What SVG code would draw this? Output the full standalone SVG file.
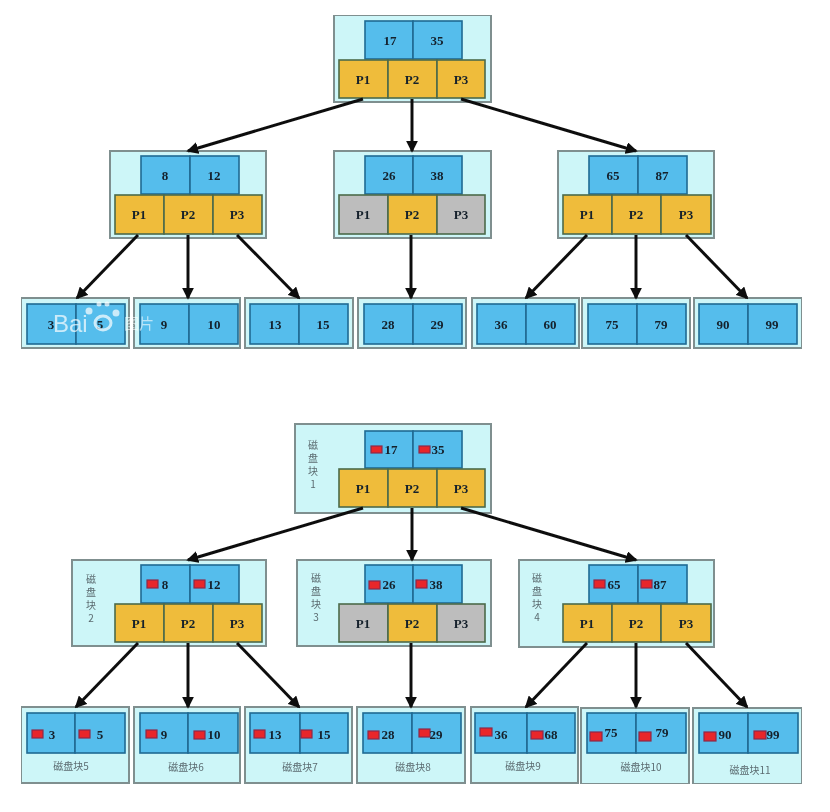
<svg xmlns="http://www.w3.org/2000/svg" width="830" height="812" viewBox="0 0 830 812">
<defs>
<style>
.o{fill:#cdf6f8;stroke:#7f8f8f;stroke-width:2}
.k{fill:#55bdec;stroke:#1f6a93;stroke-width:1.6}
.p{fill:#efbc3a;stroke:#4c6a4a;stroke-width:1.6}
.g{fill:#bdbdbd;stroke:#4c6a4a;stroke-width:1.6}
.t{font-family:"Liberation Serif","Noto Sans CJK SC",serif;font-weight:700;font-size:13px;fill:#14202c;text-anchor:middle}
.l{font-family:"Noto Sans CJK SC","Liberation Serif",serif;font-size:10px;fill:#5b6b70;text-anchor:middle}
.m{fill:#e8262a;stroke:#8a2a4a;stroke-width:1.2}
.c{fill:none;stroke:#111;stroke-width:3;marker-end:url(#a)}
.w{font-family:"Liberation Sans",sans-serif;font-size:24px;fill:#fff;fill-opacity:.7}
.x{font-family:"Noto Sans CJK SC",sans-serif;font-size:15px;fill:#fff;fill-opacity:.6}
.f{fill:#fff;fill-opacity:.7}
</style>
<marker id="a" markerWidth="4" markerHeight="4" refX="3.4" refY="2" orient="auto"><path d="M0 0L4 2L0 4Z" fill="#111"/></marker>
<filter id="b" x="0" y="0" width="100%" height="100%"><feGaussianBlur stdDeviation="0.75"/></filter>
</defs>
<rect width="830" height="812" fill="#fff"/>
<g filter="url(#b)">

<g id="a-root"><rect class="o" x="334" y="15" width="157" height="87"/>
<rect class="k" x="365" y="21" width="48" height="38"/><rect class="k" x="413" y="21" width="49" height="38"/>
<rect class="p" x="339" y="60" width="49" height="38"/><rect class="p" x="388" y="60" width="49" height="38"/><rect class="p" x="437" y="60" width="48" height="38"/>
<text class="t" x="390" y="45">17</text><text class="t" x="437" y="45">35</text>
<text class="t" x="363" y="84">P1</text><text class="t" x="412" y="84">P2</text><text class="t" x="461" y="84">P3</text></g>

<g id="a-left"><rect class="o" x="110" y="151" width="156" height="87"/>
<rect class="k" x="141" y="156" width="49" height="38"/><rect class="k" x="190" y="156" width="49" height="38"/>
<rect class="p" x="115" y="195" width="49" height="39"/><rect class="p" x="164" y="195" width="49" height="39"/><rect class="p" x="213" y="195" width="49" height="39"/>
<text class="t" x="165" y="180">8</text><text class="t" x="214" y="180">12</text>
<text class="t" x="139" y="219">P1</text><text class="t" x="188" y="219">P2</text><text class="t" x="237" y="219">P3</text></g>

<g id="a-mid"><rect class="o" x="334" y="151" width="157" height="87"/>
<rect class="k" x="365" y="156" width="48" height="38"/><rect class="k" x="413" y="156" width="49" height="38"/>
<rect class="g" x="339" y="195" width="49" height="39"/><rect class="p" x="388" y="195" width="49" height="39"/><rect class="g" x="437" y="195" width="48" height="39"/>
<text class="t" x="389" y="180">26</text><text class="t" x="437" y="180">38</text>
<text class="t" x="363" y="219">P1</text><text class="t" x="412" y="219">P2</text><text class="t" x="461" y="219">P3</text></g>

<g id="a-right"><rect class="o" x="558" y="151" width="156" height="87"/>
<rect class="k" x="589" y="156" width="49" height="38"/><rect class="k" x="638" y="156" width="49" height="38"/>
<rect class="p" x="563" y="195" width="49" height="39"/><rect class="p" x="612" y="195" width="49" height="39"/><rect class="p" x="661" y="195" width="50" height="39"/>
<text class="t" x="613" y="180">65</text><text class="t" x="662" y="180">87</text>
<text class="t" x="587" y="219">P1</text><text class="t" x="636" y="219">P2</text><text class="t" x="686" y="219">P3</text></g>

<g id="a-leaf1"><rect class="o" x="21" y="298" width="108" height="50"/><rect class="k" x="27" y="304" width="49" height="40"/><rect class="k" x="76" y="304" width="49" height="40"/><text class="t" x="51" y="329">3</text><text class="t" x="100" y="329">5</text></g>
<g id="a-leaf2"><rect class="o" x="134" y="298" width="106" height="50"/><rect class="k" x="140" y="304" width="49" height="40"/><rect class="k" x="189" y="304" width="49" height="40"/><text class="t" x="164" y="329">9</text><text class="t" x="214" y="329">10</text></g>
<g id="a-leaf3"><rect class="o" x="245" y="298" width="108" height="50"/><rect class="k" x="250" y="304" width="49" height="40"/><rect class="k" x="299" y="304" width="49" height="40"/><text class="t" x="275" y="329">13</text><text class="t" x="323" y="329">15</text></g>
<g id="a-leaf4"><rect class="o" x="358" y="298" width="108" height="50"/><rect class="k" x="364" y="304" width="49" height="40"/><rect class="k" x="413" y="304" width="49" height="40"/><text class="t" x="388" y="329">28</text><text class="t" x="437" y="329">29</text></g>
<g id="a-leaf5"><rect class="o" x="472" y="298" width="107" height="50"/><rect class="k" x="477" y="304" width="49" height="40"/><rect class="k" x="526" y="304" width="49" height="40"/><text class="t" x="501" y="329">36</text><text class="t" x="550" y="329">60</text></g>
<g id="a-leaf6"><rect class="o" x="582" y="298" width="108" height="50"/><rect class="k" x="588" y="304" width="49" height="40"/><rect class="k" x="637" y="304" width="49" height="40"/><text class="t" x="612" y="329">75</text><text class="t" x="661" y="329">79</text></g>
<g id="a-leaf7"><rect class="o" x="694" y="298" width="108" height="50"/><rect class="k" x="699" y="304" width="49" height="40"/><rect class="k" x="748" y="304" width="49" height="40"/><text class="t" x="723" y="329">90</text><text class="t" x="772" y="329">99</text></g>

<g id="watermark"><text class="w" x="53" y="332">Bai</text><circle class="f" cx="89" cy="311" r="3.5"/><circle class="f" cx="99" cy="304" r="2.5"/><circle class="f" cx="107" cy="304" r="2.5"/><circle class="f" cx="116" cy="313" r="3.5"/><ellipse cx="103" cy="323" rx="8" ry="7" fill="none" stroke="#fff" stroke-opacity=".7" stroke-width="3"/><text class="x" x="124" y="329">图片</text></g>

<g id="b-root"><rect class="o" x="295" y="424" width="196" height="89"/>
<rect class="k" x="365" y="431" width="48" height="37"/><rect class="k" x="413" y="431" width="49" height="37"/>
<rect class="p" x="339" y="469" width="49" height="38"/><rect class="p" x="388" y="469" width="49" height="38"/><rect class="p" x="437" y="469" width="48" height="38"/>
<rect class="m" x="371" y="446" width="11" height="7"/><rect class="m" x="419" y="446" width="11" height="7"/>
<text class="t" x="391" y="454">17</text><text class="t" x="438" y="454">35</text>
<text class="t" x="363" y="493">P1</text><text class="t" x="412" y="493">P2</text><text class="t" x="461" y="493">P3</text>
<text class="l" x="313" y="449">磁<tspan x="313" dy="13">盘</tspan><tspan x="313" dy="13">块</tspan><tspan x="313" dy="13">1</tspan></text></g>

<g id="b-left"><rect class="o" x="72" y="560" width="194" height="86"/>
<rect class="k" x="141" y="565" width="49" height="38"/><rect class="k" x="190" y="565" width="49" height="38"/>
<rect class="p" x="115" y="604" width="49" height="38"/><rect class="p" x="164" y="604" width="49" height="38"/><rect class="p" x="213" y="604" width="49" height="38"/>
<rect class="m" x="147" y="580" width="11" height="8"/><rect class="m" x="194" y="580" width="11" height="8"/>
<text class="t" x="165" y="589">8</text><text class="t" x="214" y="589">12</text>
<text class="t" x="139" y="628">P1</text><text class="t" x="188" y="628">P2</text><text class="t" x="237" y="628">P3</text>
<text class="l" x="91" y="583">磁<tspan x="91" dy="13">盘</tspan><tspan x="91" dy="13">块</tspan><tspan x="91" dy="13">2</tspan></text></g>

<g id="b-mid"><rect class="o" x="297" y="560" width="194" height="86"/>
<rect class="k" x="365" y="565" width="48" height="38"/><rect class="k" x="413" y="565" width="49" height="38"/>
<rect class="g" x="339" y="604" width="49" height="38"/><rect class="p" x="388" y="604" width="49" height="38"/><rect class="g" x="437" y="604" width="48" height="38"/>
<rect class="m" x="369" y="581" width="11" height="8"/><rect class="m" x="416" y="580" width="11" height="8"/>
<text class="t" x="389" y="589">26</text><text class="t" x="436" y="589">38</text>
<text class="t" x="363" y="628">P1</text><text class="t" x="412" y="628">P2</text><text class="t" x="461" y="628">P3</text>
<text class="l" x="316" y="582">磁<tspan x="316" dy="13">盘</tspan><tspan x="316" dy="13">块</tspan><tspan x="316" dy="13">3</tspan></text></g>

<g id="b-right"><rect class="o" x="519" y="560" width="195" height="87"/>
<rect class="k" x="589" y="565" width="49" height="38"/><rect class="k" x="638" y="565" width="49" height="38"/>
<rect class="p" x="563" y="604" width="49" height="38"/><rect class="p" x="612" y="604" width="49" height="38"/><rect class="p" x="661" y="604" width="50" height="38"/>
<rect class="m" x="594" y="580" width="11" height="8"/><rect class="m" x="641" y="580" width="11" height="8"/>
<text class="t" x="614" y="589">65</text><text class="t" x="660" y="589">87</text>
<text class="t" x="587" y="628">P1</text><text class="t" x="636" y="628">P2</text><text class="t" x="686" y="628">P3</text>
<text class="l" x="537" y="582">磁<tspan x="537" dy="13">盘</tspan><tspan x="537" dy="13">块</tspan><tspan x="537" dy="13">4</tspan></text></g>

<g id="b-leaf1"><rect class="o" x="21" y="707" width="108" height="76"/><rect class="k" x="27" y="713" width="48" height="40"/><rect class="k" x="75" y="713" width="50" height="40"/><rect class="m" x="32" y="730" width="11" height="8"/><rect class="m" x="79" y="730" width="11" height="8"/><text class="t" x="52" y="739">3</text><text class="t" x="100" y="739">5</text><text class="l" x="71" y="770">磁盘块5</text></g>
<g id="b-leaf2"><rect class="o" x="134" y="707" width="106" height="76"/><rect class="k" x="140" y="713" width="48" height="40"/><rect class="k" x="188" y="713" width="50" height="40"/><rect class="m" x="146" y="730" width="11" height="8"/><rect class="m" x="194" y="731" width="11" height="8"/><text class="t" x="164" y="739">9</text><text class="t" x="214" y="739">10</text><text class="l" x="186" y="771">磁盘块6</text></g>
<g id="b-leaf3"><rect class="o" x="245" y="707" width="107" height="76"/><rect class="k" x="250" y="713" width="50" height="40"/><rect class="k" x="300" y="713" width="48" height="40"/><rect class="m" x="254" y="730" width="11" height="8"/><rect class="m" x="301" y="730" width="11" height="8"/><text class="t" x="275" y="739">13</text><text class="t" x="324" y="739">15</text><text class="l" x="300" y="771">磁盘块7</text></g>
<g id="b-leaf4"><rect class="o" x="357" y="707" width="108" height="76"/><rect class="k" x="363" y="713" width="49" height="40"/><rect class="k" x="412" y="713" width="49" height="40"/><rect class="m" x="368" y="731" width="11" height="8"/><rect class="m" x="419" y="729" width="11" height="8"/><text class="t" x="388" y="739">28</text><text class="t" x="436" y="739">29</text><text class="l" x="413" y="771">磁盘块8</text></g>
<g id="b-leaf5"><rect class="o" x="471" y="707" width="107" height="76"/><rect class="k" x="475" y="713" width="52" height="40"/><rect class="k" x="527" y="713" width="48" height="40"/><rect class="m" x="480" y="728" width="12" height="8"/><rect class="m" x="531" y="731" width="12" height="8"/><text class="t" x="501" y="739">36</text><text class="t" x="551" y="739">68</text><text class="l" x="523" y="770">磁盘块9</text></g>
<g id="b-leaf6"><rect class="o" x="581" y="708" width="108" height="76"/><rect class="k" x="587" y="713" width="49" height="40"/><rect class="k" x="636" y="713" width="50" height="40"/><rect class="m" x="590" y="732" width="12" height="9"/><rect class="m" x="639" y="732" width="12" height="9"/><text class="t" x="611" y="737">75</text><text class="t" x="662" y="737">79</text><text class="l" x="641" y="771">磁盘块10</text></g>
<g id="b-leaf7"><rect class="o" x="693" y="708" width="109" height="76"/><rect class="k" x="699" y="713" width="49" height="40"/><rect class="k" x="748" y="713" width="50" height="40"/><rect class="m" x="704" y="732" width="12" height="9"/><rect class="m" x="754" y="731" width="12" height="8"/><text class="t" x="725" y="739">90</text><text class="t" x="773" y="739">99</text><text class="l" x="750" y="774">磁盘块11</text></g>

<g id="connectors">
<path class="c" d="M363 99L188 151"/><path class="c" d="M412 99V151"/><path class="c" d="M461 99L636 151"/>
<path class="c" d="M138 235L77 298"/><path class="c" d="M188 235V298"/><path class="c" d="M237 235L299 298"/>
<path class="c" d="M411 235V298"/>
<path class="c" d="M587 235L526 298"/><path class="c" d="M636 235V298"/><path class="c" d="M686 235L747 298"/>
<path class="c" d="M363 508L188 560"/><path class="c" d="M412 508V560"/><path class="c" d="M461 508L636 560"/>
<path class="c" d="M138 643L76 707"/><path class="c" d="M188 643V707"/><path class="c" d="M237 643L299 707"/>
<path class="c" d="M411 643V707"/>
<path class="c" d="M587 643L526 707"/><path class="c" d="M636 643V707"/><path class="c" d="M686 643L747 707"/>
</g>
</g>
</svg>
